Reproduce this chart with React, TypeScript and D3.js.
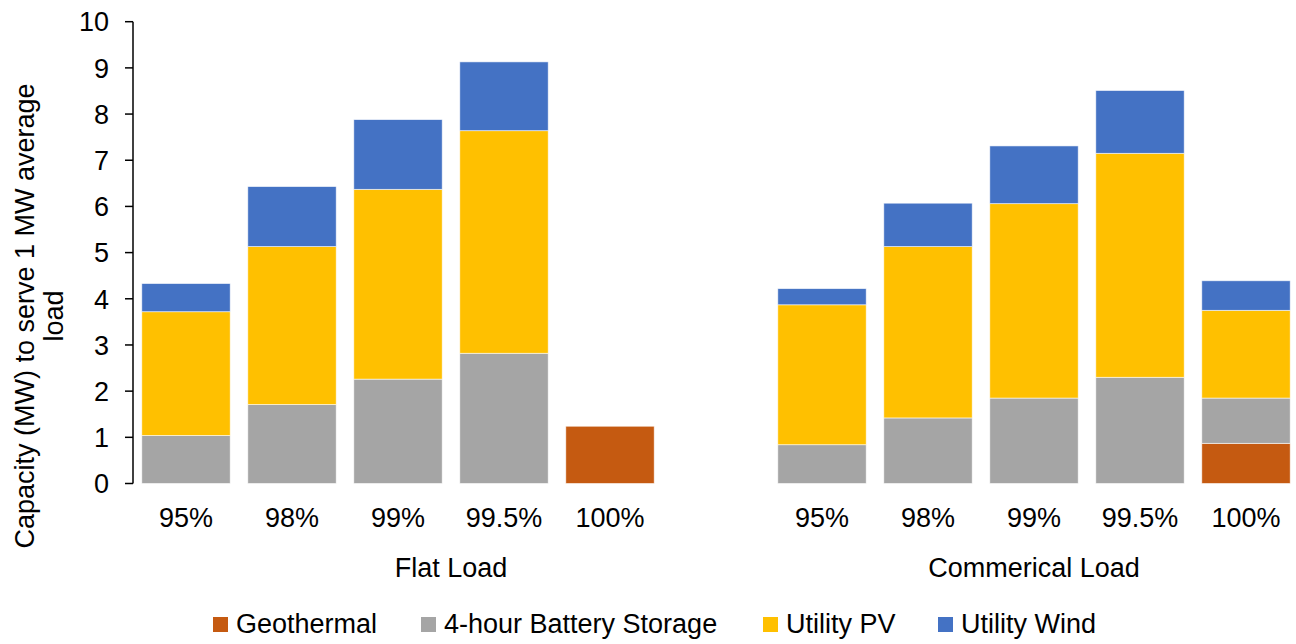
import React from "react";
import * as d3 from "d3";

const categories = ["95%", "98%", "99%", "99.5%", "100%"];
const groups = ["Flat Load", "Commerical Load"];
const seriesNames = ["Geothermal", "4-hour Battery Storage", "Utility PV", "Utility Wind"];
const seriesColors = ["#C55A11", "#A5A5A5", "#FFC000", "#4472C4"];

// Flat Load values per category
const flatGeothermal = [0, 0, 0, 0, 1.24];
const flatBattery = [1.04, 1.71, 2.26, 2.82, 0];
const flatPV = [2.68, 3.42, 4.11, 4.82, 0];
const flatWind = [0.61, 1.3, 1.51, 1.49, 0];

// Commercial Load values per category
const comGeothermal = [0, 0, 0, 0, 0.87];
const comBattery = [0.84, 1.42, 1.85, 2.3, 0.98];
const comPV = [3.03, 3.71, 4.21, 4.85, 1.9];
const comWind = [0.35, 0.94, 1.25, 1.36, 0.64];

const yTicks = [0, 1, 2, 3, 4, 5, 6, 7, 8, 9, 10];

const W = 1296;
const H = 644;
const FONT = "'Liberation Sans', Arial, sans-serif";
const FS = 27;

type Row = { key: string; group: number; cat: string; [k: string]: any };

function buildRows(): Row[] {
  const rows: Row[] = [];
  const sets = [
    [flatGeothermal, flatBattery, flatPV, flatWind],
    [comGeothermal, comBattery, comPV, comWind],
  ];
  sets.forEach((s, g) => {
    categories.forEach((c, i) => {
      const r: Row = { key: `${g}-${c}`, group: g, cat: c };
      seriesNames.forEach((n, j) => (r[n] = s[j][i]));
      rows.push(r);
    });
    if (g === 0) {
      const blank: Row = { key: "gap", group: 0, cat: "" };
      seriesNames.forEach((n) => (blank[n] = 0));
      rows.push(blank);
    }
  });
  return rows;
}

export default function App() {
  const rows = buildRows();
  const x = d3
    .scaleBand<string>()
    .domain(rows.map((r) => r.key))
    .range([133, 1299])
    .paddingInner(0.166)
    .paddingOuter(0.083);
  const y = d3.scaleLinear().domain([0, 10]).range([483.5, 21.7]);
  const stack = d3.stack<Row>().keys(seriesNames);
  const layers = stack(rows);

  const groupCenter = (g: number) => {
    const keys = rows.filter((r) => r.group === g).map((r) => r.key);
    const first = x(keys[0])! - (x.step() - x.bandwidth()) / 2;
    const last = x(keys[keys.length - 1])! + x.bandwidth() + (x.step() - x.bandwidth()) / 2;
    return (first + last) / 2;
  };

  const legendX = [213, 421, 763, 938];

  return (
    <svg
      width={W}
      height={H}
      style={{ position: "absolute", left: 0, top: 0, background: "#fff" }}
      fontFamily={FONT}
    >
      <rect width={W} height={H} fill="#fff" />
      {layers.map((layer, li) => (
        <g key={layer.key} fill={seriesColors[li]}>
          {layer.map((d, i) => {
            const h = y(d[0]) - y(d[1]);
            if (h <= 0.01) return null;
            return (
              <rect
                key={i}
                x={x(rows[i].key)}
                y={y(d[1])}
                width={x.bandwidth()}
                height={h}
                stroke="#ffffff"
                strokeOpacity={0.7}
                strokeWidth={0.8}
              />
            );
          })}
        </g>
      ))}
      {/* y axis */}
      <line x1={133} x2={133} y1={y(0)} y2={y(10)} stroke="#000" strokeWidth={1.5} />
      {yTicks.map((t) => (
        <g key={t}>
          <line x1={125} x2={133} y1={y(t)} y2={y(t)} stroke="#000" strokeWidth={1.5} />
          <text x={109} y={y(t)} dy="0.36em" textAnchor="end" fontSize={FS} fill="#000">
            {t}
          </text>
        </g>
      ))}
      {/* category labels */}
      {rows
        .filter((r) => r.cat !== "")
        .map((r) => (
          <text
            key={r.key}
            x={x(r.key)! + x.bandwidth() / 2}
            y={527}
            textAnchor="middle"
            fontSize={FS}
            fill="#000"
          >
            {r.cat}
          </text>
        ))}
      {groups.map((g, gi) => (
        <text key={g} x={groupCenter(gi)} y={577} textAnchor="middle" fontSize={FS} fill="#000">
          {g}
        </text>
      ))}
      {/* y axis title */}
      <text transform="translate(34,316) rotate(-90)" textAnchor="middle" fontSize={FS} fill="#000">
        Capacity (MW) to serve 1 MW average
      </text>
      <text transform="translate(63,316) rotate(-90)" textAnchor="middle" fontSize={FS} fill="#000">
        load
      </text>
      {/* legend */}
      {seriesNames.map((n, i) => (
        <g key={n}>
          <rect x={legendX[i]} y={617} width={15} height={15} fill={seriesColors[i]} />
          <text x={legendX[i] + 23} y={633} fontSize={FS} fill="#000">
            {n}
          </text>
        </g>
      ))}
    </svg>
  );
}
